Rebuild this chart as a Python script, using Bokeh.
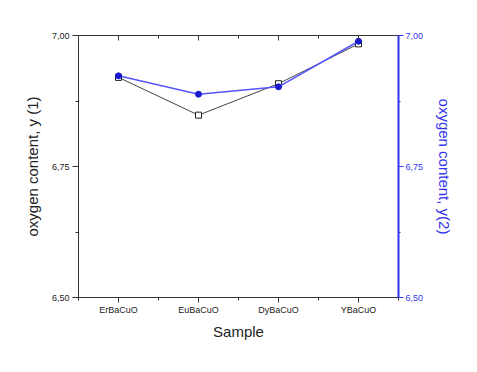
from bokeh.plotting import figure
from bokeh.models import (Range1d, LinearAxis, FixedTicker, CustomJSTickFormatter)
from bokeh.embed import file_html
from bokeh.resources import INLINE

categories = ["ErBaCuO", "EuBaCuO", "DyBaCuO", "YBaCuO"]
y1 = [6.920, 6.848, 6.908, 6.984]
y2 = [6.923, 6.888, 6.902, 6.989]
y_ticks = [6.50, 6.75, 7.00]
y_minor = [6.625, 6.875]

xs = list(range(1, len(categories) + 1))

p = figure(width=469, height=364, output_backend="svg", toolbar_location=None,
           x_range=Range1d(0.5, len(categories) + 0.5), y_range=Range1d(6.5, 7.0),
           min_border_left=78, min_border_right=71, min_border_top=35, min_border_bottom=67)
p.extra_y_ranges = {"y2": Range1d(6.5, 7.0)}
p.grid.visible = False
p.outline_line_color = None
p.background_fill_color = "white"
p.border_fill_color = "white"

fmt_y = CustomJSTickFormatter(code="return tick.toFixed(2).replace('.', ',');")
fmt_x = CustomJSTickFormatter(args=dict(labels=categories),
                              code="const i = Math.round(tick) - 1; return (i >= 0 && i < labels.length && Math.abs(tick - Math.round(tick)) < 1e-6) ? labels[i] : '';")

# bottom axis
xa = p.xaxis[0]
xa.ticker = FixedTicker(ticks=xs, minor_ticks=[0.5 + i for i in range(len(categories) + 1)])
xa.formatter = fmt_x
xa.axis_label = "Sample"
xa.axis_label_text_font = "Liberation Sans"
xa.axis_label_text_font_style = "normal"
xa.axis_label_text_font_size = "15px"
xa.axis_label_text_color = "#222222"
xa.axis_label_standoff = 5
xa.major_label_text_font = "Liberation Sans"
xa.major_label_text_font_size = "9px"
xa.major_label_text_color = "#222222"
xa.major_label_standoff = 2
xa.major_tick_in = 0
xa.major_tick_out = 5
xa.minor_tick_in = 0
xa.minor_tick_out = 3
xa.axis_line_color = "#333333"
xa.major_tick_line_color = "#333333"
xa.minor_tick_line_color = "#333333"

# left axis
ya = p.yaxis[0]
ya.ticker = FixedTicker(ticks=y_ticks, minor_ticks=y_minor)
ya.formatter = fmt_y
ya.axis_label = "oxygen content, y (1)"
ya.axis_label_text_font = "Liberation Sans"
ya.axis_label_text_font_style = "normal"
ya.axis_label_text_font_size = "15px"
ya.axis_label_text_color = "#222222"
ya.axis_label_standoff = 8
ya.major_label_text_font = "Liberation Sans"
ya.major_label_text_font_size = "9px"
ya.major_label_text_color = "#222222"
ya.major_label_standoff = 3
ya.major_tick_in = 0
ya.major_tick_out = 6
ya.minor_tick_in = 0
ya.minor_tick_out = 3
ya.axis_line_color = "#333333"
ya.major_tick_line_color = "#333333"
ya.minor_tick_line_color = "#333333"

# top axis (no labels)
top = LinearAxis(ticker=FixedTicker(ticks=xs, minor_ticks=[0.5 + i for i in range(len(categories) + 1)]),
                 formatter=CustomJSTickFormatter(code="return '';"),
                 major_label_standoff=0, major_tick_in=5, major_tick_out=0,
                 minor_tick_in=3, minor_tick_out=0, axis_line_color="#333333",
                 major_tick_line_color="#333333", minor_tick_line_color="#333333")
p.add_layout(top, "above")

# right axis (blue)
blue = "#3333ee"
ra = LinearAxis(y_range_name="y2", ticker=FixedTicker(ticks=y_ticks, minor_ticks=y_minor),
                formatter=fmt_y, axis_label="oxygen content, y(2)")
ra.axis_label_text_font = "Liberation Sans"
ra.axis_label_text_font_style = "normal"
ra.axis_label_text_font_size = "15px"
ra.axis_label_text_color = blue
ra.axis_label_standoff = 10
ra.major_label_text_font = "Liberation Sans"
ra.major_label_text_font_size = "9px"
ra.major_label_text_color = blue
ra.major_label_standoff = 2
ra.major_tick_in = 0
ra.major_tick_out = 5
ra.minor_tick_in = 0
ra.minor_tick_out = 2
ra.axis_line_color = blue
ra.axis_line_width = 2
ra.major_tick_line_color = blue
ra.minor_tick_line_color = blue
p.add_layout(ra, "right")

# series 1
p.line(xs, y1, line_color="#444444", line_width=1)
p.scatter(xs, y1, marker="square", size=6, fill_color="white", line_color="#222222", line_width=1)

# series 2
p.line(xs, y2, line_color="#5555ff", line_width=1.5, y_range_name="y2")
p.scatter(xs, y2, marker="circle", size=6, fill_color="#1a1ad0", line_color="#1a1ad0", y_range_name="y2")

open("out.html", "w").write(file_html(p, INLINE))
